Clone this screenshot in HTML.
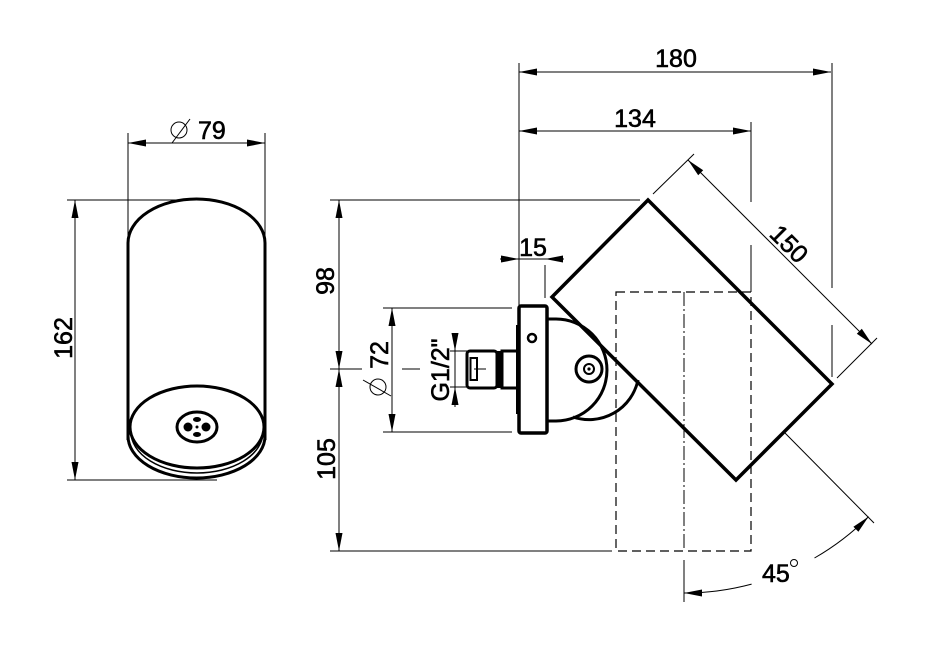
<!DOCTYPE html>
<html>
<head>
<meta charset="utf-8">
<style>
  html, body { margin: 0; padding: 0; background: #fff; }
  svg { display: block; }
  text { font-family: "Liberation Sans", Arial, sans-serif; font-size: 25px; fill: #000; stroke: #000; stroke-width: 0.6; }
</style>
</head>
<body>
<svg width="934" height="664" viewBox="0 0 934 664" xmlns="http://www.w3.org/2000/svg">
  <rect width="934" height="664" fill="#fff"/>

  <!-- ================= LEFT VIEW ================= -->
  <g stroke="#000" stroke-width="1" fill="none">
    <line x1="67" y1="200" x2="198" y2="200"/>
    <line x1="67" y1="480" x2="217" y2="480"/>
    <line x1="75" y1="200" x2="75" y2="480"/>
    <line x1="128" y1="133" x2="128" y2="243"/>
    <line x1="265" y1="133" x2="265" y2="243"/>
    <line x1="128" y1="143" x2="265" y2="143"/>
    <circle cx="179" cy="130" r="8"/>
    <line x1="172" y1="143" x2="190" y2="119"/>
  </g>
  <g fill="#000">
    <polygon points="75,200 71.5,218 78.5,218"/>
    <polygon points="75,480 71.5,462 78.5,462"/>
    <polygon points="128,143 146,139.5 146,146.5"/>
    <polygon points="265,143 247,139.5 247,146.5"/>
  </g>
  <text x="198" y="139">79</text>
  <text transform="translate(72,338) rotate(-90)" text-anchor="middle">162</text>

  <!-- cylinder -->
  <g stroke="#000" fill="none">
    <path d="M128,440 L128,243 A68.5,44 0 0 1 265,243 L265,440" stroke-width="3"/>
    <ellipse cx="197" cy="427" rx="67" ry="41" stroke-width="3"/>
    <path d="M128,436 A68.5,42 0 0 0 265,436" stroke-width="3"/>
    <path d="M131,432 A66,41 0 0 0 263,432" stroke-width="1.5"/>
    <ellipse cx="197" cy="427" rx="20" ry="15" stroke-width="3"/>
  </g>
  <g fill="#000">
    <ellipse cx="188" cy="427" rx="4.5" ry="4.5"/>
    <ellipse cx="206" cy="427" rx="4.5" ry="4.5"/>
    <ellipse cx="197" cy="419.5" rx="4" ry="2.5"/>
    <ellipse cx="197" cy="434.5" rx="4" ry="2.5"/>
    <circle cx="197" cy="427" r="1.5"/>
  </g>

  <!-- ================= SIDE VIEW ================= -->
  <g stroke="#000" stroke-width="1" fill="none">
    <line x1="330" y1="200" x2="640" y2="200"/>
    <line x1="330" y1="551" x2="612" y2="551"/>
    <line x1="330" y1="369" x2="362" y2="369"/>
    <line x1="402" y1="369" x2="420" y2="369"/>
    <line x1="339" y1="200" x2="339" y2="551"/>
    <line x1="383" y1="308" x2="512" y2="308"/>
    <line x1="383" y1="432" x2="512" y2="432"/>
    <line x1="392" y1="308" x2="392" y2="432"/>
    <circle cx="378" cy="387" r="8"/>
    <line x1="363" y1="380" x2="391" y2="396"/>
    <line x1="455" y1="333" x2="455" y2="407"/>
    <line x1="450" y1="351" x2="468" y2="351"/>
    <line x1="450" y1="387" x2="468" y2="387"/>
    <line x1="500" y1="259" x2="564" y2="259"/>
    <line x1="545" y1="265" x2="545" y2="298"/>
    <line x1="519" y1="131" x2="751" y2="131"/>
    <line x1="519" y1="72" x2="831" y2="72"/>
    <line x1="519" y1="63" x2="519" y2="305"/>
    <line x1="751" y1="122" x2="751" y2="202"/>
    <line x1="751" y1="245" x2="751" y2="292"/>
    <line x1="832" y1="63" x2="832" y2="288"/>
    <line x1="832" y1="325" x2="832" y2="377"/>
    <line x1="653" y1="194" x2="694" y2="154"/>
    <line x1="837" y1="378" x2="877" y2="338"/>
    <line x1="688" y1="160" x2="872" y2="344"/>
    <line x1="785" y1="433" x2="874" y2="523"/>
    <path d="M868.6,516.6 A261,261 0 0 1 814.5,558"/>
    <path d="M751.6,584.1 A261,261 0 0 1 684,593"/>
    <line x1="684" y1="560" x2="684" y2="602"/>
    <circle cx="794" cy="563" r="3.5"/>
    <rect x="616" y="292" width="135" height="259" stroke-dasharray="9,5" stroke-width="1.2"/>
    <line x1="684" y1="292" x2="684" y2="551" stroke-dasharray="14,3,2,3"/>
  </g>

  <g fill="#000">
    <polygon points="339,200 335.5,218 342.5,218"/>
    <polygon points="339,369 335.5,351 342.5,351"/>
    <polygon points="339,369 335.5,387 342.5,387"/>
    <polygon points="339,551 335.5,533 342.5,533"/>
    <polygon points="392,308 388.5,326 395.5,326"/>
    <polygon points="392,432 388.5,414 395.5,414"/>
    <polygon points="455,351 451.5,333 458.5,333"/>
    <polygon points="455,387 451.5,405 458.5,405"/>
    <polygon points="519,259 501,255.5 501,262.5"/>
    <polygon points="545,259 563,255.5 563,262.5"/>
    <polygon points="519,131 537,127.5 537,134.5"/>
    <polygon points="751,131 733,127.5 733,134.5"/>
    <polygon points="519,72 537,68.5 537,75.5"/>
    <polygon points="831,72 813,68.5 813,75.5"/>
    <polygon points="688,160 703.2,170.2 698.2,175.2"/>
    <polygon points="872,344 861.8,328.8 856.8,333.8"/>
    <polygon points="868.6,516.6 858.4,531.8 853.4,526.8"/>
    <polygon points="684,593 702,589.5 702,596.5"/>
  </g>

  <g stroke="#000" fill="none">
    <polygon points="648,200 832,384 736,480 552,297" stroke-width="3.5" stroke-linejoin="miter"/>
    <path d="M547,319 L556,319 A51,51 0 0 1 556,421 L547,421" stroke-width="3"/>
    <path d="M573,417 A50,50 0 0 0 638,380" stroke-width="3"/>
    <circle cx="589" cy="369" r="13" stroke-width="3"/>
    <circle cx="589" cy="369" r="5" stroke-width="2"/>
    <rect x="519" y="306" width="28" height="127" rx="2" stroke-width="3.5" fill="#fff"/>
    <line x1="517" y1="325" x2="517" y2="414" stroke-width="2"/>
    <circle cx="532" cy="338" r="4" stroke-width="2.5"/>
    <rect x="502" y="351" width="17" height="37" stroke-width="3"/>
    <rect x="467" y="351" width="30" height="37" rx="3" stroke-width="3"/>
    <rect x="470.5" y="358" width="6.5" height="22" stroke-width="2"/>
  </g>
  <rect x="496" y="351" width="6" height="37" fill="#000"/>
  <circle cx="589" cy="369" r="1.6" fill="#000"/>
  <line x1="474" y1="369" x2="486" y2="369" stroke="#000" stroke-width="1"/>

  <text x="676" y="67" text-anchor="middle">180</text>
  <text x="635" y="127" text-anchor="middle">134</text>
  <text x="533" y="256" text-anchor="middle">15</text>
  <text transform="translate(334,281) rotate(-90)" text-anchor="middle">98</text>
  <text transform="translate(335,459) rotate(-90)" text-anchor="middle">105</text>
  <text transform="translate(388,355) rotate(-90)" text-anchor="middle">72</text>
  <text transform="translate(449,370) rotate(-90)" text-anchor="middle">G1/2"</text>
  <text transform="translate(783,250) rotate(45)" text-anchor="middle">150</text>
  <text x="762" y="582">45</text>
</svg>
</body>
</html>
